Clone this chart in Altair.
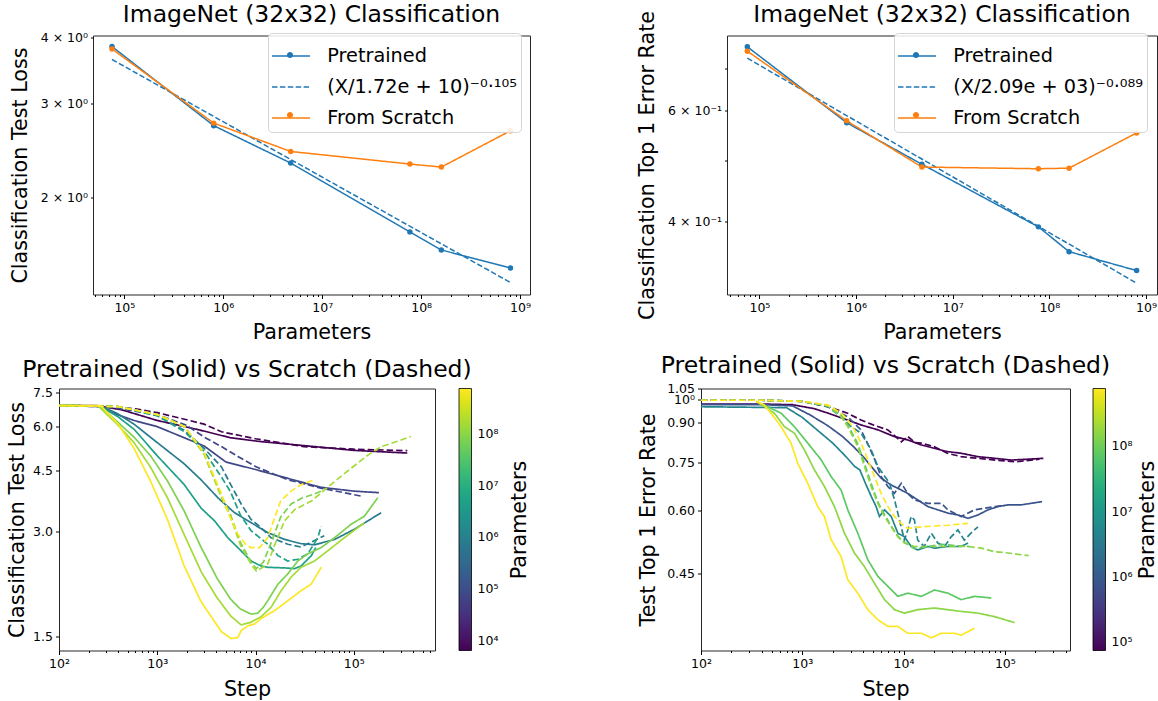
import altair as alt
import pandas as pd

FONT = "DejaVu Sans"
BLUE = "#1f77b4"
ORANGE = "#ff7f0e"
FRAME = "#262626"

TITLE_SIZE = 23.5
AXIS_TITLE_SIZE = 20.7
TICK_SIZE = 12.5
LEGEND_SIZE = 19.3

# ---------------- top row: final metric vs model size ----------------
PARAMS = [7.5e4, 8.0e5, 4.8e6, 7.7e7, 1.6e8, 8.0e8]
LOSS_PRETRAINED = [3.85, 2.73, 2.32, 1.72, 1.59, 1.47]
LOSS_SCRATCH = [3.81, 2.76, 2.44, 2.31, 2.28, 2.67]
LOSS_FIT_X = [7.5e4, 8.0e8]
LOSS_FIT_Y = [3.64, 1.38]
LOSS_FIT_LABEL = "(X/1.72e + 10)⁻⁰·¹⁰⁵"

ERR_PRETRAINED = [0.758, 0.574, 0.493, 0.392, 0.358, 0.334]
ERR_SCRATCH = [0.746, 0.578, 0.488, 0.485, 0.486, 0.553]
ERR_FIT_X = [7.5e4, 8.0e8]
ERR_FIT_Y = [0.727, 0.319]
ERR_FIT_LABEL = "(X/2.09e + 03)⁻⁰·⁰⁸⁹"

SERIES_PRE = "Pretrained"
SERIES_SCR = "From Scratch"

# ---------------- bottom-left: test loss curves ----------------
BL_PARAMS = [6.4e3, 7.5e4, 8.0e5, 4.8e6, 7.7e7, 1.6e8, 7.7e8]
BL_PRE_STEPS = [
    [100, 240, 440, 1000, 2700, 5500, 11000, 26000, 100000, 350000],
    [100, 260, 390, 580, 1000, 1870, 3000, 5000, 10000, 21000, 46000, 100000, 180000],
    [100, 265, 390, 580, 1000, 1870, 2800, 4140, 6100, 9030, 13300, 19700, 29100, 39800, 64000, 102000, 139000, 190000],
    [100, 260, 400, 580, 1000, 1870, 2800, 3830, 5230, 7140, 9030, 11400, 13300, 19700, 25000, 29000, 37000, 41000],
    [100, 260, 392, 580, 855, 1265, 1866, 2800, 4075, 5570, 7000, 9000, 10500, 12000, 13300, 16900, 21300, 26900, 34000, 46600, 63500, 94000, 128000, 175000],
    [100, 250, 390, 580, 850, 1270, 1870, 2800, 4000, 5570, 7140, 9030, 11400, 14400, 18200, 23000, 29000, 39800, 54000, 80000, 128000],
    [100, 265, 400, 580, 850, 1270, 1870, 2760, 3540, 4480, 5660, 6610, 7140, 8350, 9770, 11400, 15600, 21300, 29000, 36800, 46600],
]
BL_PRE_LOSS = [
    [6.9, 6.9, 6.7, 6.25, 5.87, 5.58, 5.44, 5.32, 5.13, 5.04],
    [6.9, 6.85, 6.5, 6.25, 6.0, 5.58, 5.28, 4.75, 4.52, 4.27, 4.02, 3.92, 3.88],
    [6.9, 6.88, 6.55, 6.1, 5.4, 4.7, 4.22, 3.75, 3.4, 3.18, 2.98, 2.85, 2.77, 2.75, 2.85, 3.05, 3.22, 3.4],
    [6.9, 6.88, 6.4, 5.9, 4.95, 4.1, 3.5, 3.22, 2.88, 2.64, 2.47, 2.39, 2.37, 2.36, 2.35, 2.39, 2.56, 2.7],
    [6.9, 6.88, 6.2, 5.6, 4.95, 4.2, 3.45, 2.7, 2.2, 1.92, 1.8, 1.74, 1.75, 1.82, 1.9, 2.12, 2.27, 2.47, 2.59, 2.7, 2.88, 3.15, 3.32, 3.75],
    [6.9, 6.88, 6.1, 5.4, 4.6, 3.75, 2.95, 2.3, 1.95, 1.72, 1.62, 1.65, 1.71, 1.82, 2.03, 2.22, 2.37, 2.47, 2.64, 2.88, 3.18],
    [6.9, 6.9, 6.1, 5.2, 4.2, 3.25, 2.4, 1.9, 1.71, 1.55, 1.48, 1.49, 1.56, 1.61, 1.63, 1.69, 1.78, 1.9, 2.03, 2.12, 2.37],
]
BL_SCR_STEPS = [
    [100, 300, 600, 1000, 1900, 3000, 4500, 10000, 31000, 100000, 350000],
    [100, 300, 1000, 2000, 3000, 4500, 6600, 10000, 21000, 46000, 100000, 120000],
    [100, 400, 1000, 1900, 3000, 4500, 5570, 7140, 9000, 11400, 14400, 21300, 29000, 40000, 50000],
    [100, 400, 1000, 1900, 3000, 4500, 5570, 7000, 9000, 13300, 16900, 21300, 27000, 34000, 43000, 46500],
    [100, 400, 1000, 1900, 3000, 4500, 5570, 7000, 9000, 10200, 12000, 14500, 18000, 23000, 30000, 40000, 50000],
    [100, 400, 1000, 1900, 3000, 4500, 5570, 7000, 9000, 10200, 13300, 15600, 19700, 25000, 37000, 64000, 94000, 140000, 190000, 280000, 380000],
    [100, 400, 1000, 1900, 3000, 4500, 5500, 6600, 8000, 9000, 11000, 13300, 15000, 18000, 23000, 29000, 40000],
]
BL_SCR_LOSS = [
    [6.9, 6.88, 6.75, 6.58, 6.3, 6.1, 5.8, 5.54, 5.26, 5.17, 5.12],
    [6.9, 6.85, 6.5, 6.05, 5.6, 5.26, 4.93, 4.61, 4.23, 4.0, 3.83, 3.79],
    [6.9, 6.85, 6.45, 5.85, 5.2, 4.6, 4.1, 3.6, 3.25, 3.08, 2.88, 2.76, 2.71, 2.83, 2.92],
    [6.9, 6.85, 6.45, 5.8, 5.1, 4.3, 3.9, 3.35, 3.02, 2.76, 2.56, 2.47, 2.5, 2.59, 2.88, 3.11],
    [6.9, 6.85, 6.5, 6.0, 5.0, 3.8, 3.35, 2.8, 2.45, 2.35, 2.45, 2.8, 3.3, 3.6, 3.75, 3.85, 3.95],
    [6.9, 6.85, 6.5, 6.0, 5.0, 3.75, 3.3, 2.75, 2.42, 2.31, 2.42, 2.74, 3.22, 3.47, 3.67, 4.18, 4.56, 4.98, 5.26, 5.45, 5.62],
    [6.9, 6.85, 6.5, 6.0, 5.05, 3.85, 3.3, 2.95, 2.75, 2.7, 2.7, 2.88, 3.18, 3.67, 3.92, 4.09, 4.23],
]

# ---------------- bottom-right: top-1 error curves ----------------
BR_PARAMS = [7.5e4, 8.0e5, 4.8e6, 7.7e7, 1.6e8, 7.7e8]
BR_PRE_STEPS = [
    [100, 400, 800, 1300, 1800, 2800, 3800, 5600, 8100, 11000, 15000, 20000, 27000, 37000, 54000, 80000, 116000, 240000],
    [100, 400, 800, 1200, 1800, 2500, 3200, 4000, 4800, 6000, 7500, 9500, 11000, 13800, 17400, 21800, 27400, 34400, 43300, 54300, 68200, 85700, 108000, 146000, 233000],
    [100, 700, 1000, 1400, 2000, 2700, 3300, 3700, 4200, 4800, 5360, 5780, 6490, 7550, 8790, 10200, 11900, 13800, 17400, 20200, 27400, 37000, 43300],
    [350, 617, 836, 1132, 1535, 1927, 2417, 2814, 3534, 4436, 5570, 7000, 8790, 11000, 15000, 20200, 27400, 37000, 50300, 73600],
    [350, 530, 666, 836, 1050, 1318, 1655, 2079, 2608, 3275, 4113, 5165, 6486, 8147, 10200, 13800, 20200, 27400, 37000, 54300, 79500, 125000],
    [350, 420, 492, 617, 774, 902, 1132, 1421, 1655, 1927, 2417, 2814, 3534, 4436, 5570, 7000, 8790, 11000, 15000, 18800, 23600, 31900, 37000, 50300],
]
BR_PRE_ERR = [
    [0.978, 0.978, 0.975, 0.958, 0.938, 0.909, 0.889, 0.869, 0.843, 0.83, 0.811, 0.799, 0.787, 0.781, 0.769, 0.763, 0.757, 0.763],
    [0.975, 0.975, 0.97, 0.93, 0.885, 0.843, 0.805, 0.769, 0.735, 0.697, 0.676, 0.66, 0.65, 0.631, 0.612, 0.603, 0.594, 0.589, 0.58, 0.589, 0.603, 0.612, 0.617, 0.617, 0.626],
    [0.966, 0.962, 0.92, 0.869, 0.818, 0.769, 0.735, 0.724, 0.681, 0.641, 0.612, 0.585, 0.603, 0.585, 0.542, 0.533, 0.51, 0.502, 0.51, 0.506, 0.51, 0.51, 0.518],
    [0.99, 0.938, 0.882, 0.818, 0.758, 0.702, 0.66, 0.603, 0.542, 0.48, 0.445, 0.425, 0.406, 0.412, 0.406, 0.418, 0.412, 0.4, 0.406, 0.403],
    [0.99, 0.938, 0.882, 0.856, 0.793, 0.724, 0.671, 0.612, 0.542, 0.495, 0.465, 0.431, 0.4, 0.382, 0.376, 0.382, 0.385, 0.382, 0.379, 0.376, 0.37, 0.36],
    [0.99, 0.975, 0.938, 0.882, 0.818, 0.746, 0.681, 0.612, 0.585, 0.526, 0.487, 0.438, 0.412, 0.382, 0.365, 0.354, 0.354, 0.343, 0.343, 0.336, 0.343, 0.343, 0.34, 0.351],
]
BR_SCR_STEPS = [
    [100, 400, 1000, 1800, 2800, 3800, 5000, 7000, 8500, 9500, 11000, 13000, 15000, 20000, 27000, 37000, 54000, 80000, 125000, 220000],
    [100, 400, 1000, 1800, 2800, 3800, 4400, 5200, 6000, 7000, 8100, 9500, 11000, 12800, 17400, 23600, 27400, 37000, 50300, 79500, 100000],
    [100, 400, 1000, 1800, 2400, 3040, 3810, 4790, 5570, 7270, 8150, 9470, 10200, 11000, 11900, 12800, 13800, 16000, 18800, 21800, 25400, 29500, 34400, 39800, 46300, 54300],
    [100, 400, 1000, 1800, 2417, 2814, 3534, 4113, 4786, 5570, 6486, 7550, 8790, 10200, 12800, 17400, 23600, 31900, 45000],
    [100, 400, 1000, 1800, 2417, 2814, 3534, 4113, 4786, 5570, 6486, 7550, 8790, 10200, 12800, 17400, 23600, 31900, 43300, 58600, 79500, 108000, 146000, 172000],
    [100, 400, 1000, 1786, 2417, 2814, 3275, 3811, 4436, 5165, 6010, 7000, 8147, 9470, 11000, 15000, 20200, 27400, 43300],
]
BR_SCR_ERR = [
    [0.995, 0.995, 0.99, 0.966, 0.938, 0.909, 0.889, 0.869, 0.84, 0.823, 0.843, 0.82, 0.818, 0.805, 0.781, 0.769, 0.763, 0.757, 0.751, 0.76],
    [0.995, 0.995, 0.99, 0.966, 0.923, 0.869, 0.818, 0.758, 0.702, 0.671, 0.65, 0.681, 0.65, 0.631, 0.621, 0.621, 0.603, 0.585, 0.603, 0.612, 0.615],
    [0.995, 0.995, 0.99, 0.966, 0.923, 0.882, 0.856, 0.793, 0.735, 0.681, 0.631, 0.558, 0.525, 0.55, 0.585, 0.576, 0.525, 0.51, 0.542, 0.518, 0.51, 0.533, 0.55, 0.525, 0.542, 0.558],
    [0.995, 0.995, 0.99, 0.97, 0.93, 0.89, 0.815, 0.745, 0.68, 0.625, 0.59, 0.56, 0.535, 0.52, 0.505, 0.51, 0.515, 0.512, 0.51],
    [0.995, 0.995, 0.99, 0.97, 0.923, 0.882, 0.805, 0.735, 0.671, 0.621, 0.585, 0.558, 0.533, 0.518, 0.51, 0.51, 0.51, 0.51, 0.51, 0.506, 0.498, 0.495, 0.491, 0.489],
    [0.995, 0.995, 0.99, 0.974, 0.938, 0.909, 0.869, 0.818, 0.758, 0.702, 0.65, 0.612, 0.585, 0.567, 0.554, 0.558, 0.56, 0.562, 0.567],
]

# ---------------- axes / ticks ----------------
DECADES = [1e2, 1e3, 1e4, 1e5, 1e6, 1e7, 1e8, 1e9]
MINOR_MULT = [1, 2, 3, 4, 5, 6, 7, 8, 9]
TL_X_DOMAIN = [4.82e4, 1.26e9]
TL_Y_DOMAIN = [1.31, 4.04]
TR_X_DOMAIN = [4.62e4, 1.30e9]
TR_Y_DOMAIN = [0.306, 0.79]
BL_X_DOMAIN = [100, 6.7e5]
BL_Y_DOMAIN = [1.368, 7.72]
BR_X_DOMAIN = [100, 4.4e5]
BR_Y_DOMAIN = [0.317, 1.05]
TL_Y_TICKS = [2, 3, 4]
TR_Y_TICKS = [0.4, 0.5, 0.6, 0.7]
BL_Y_TICKS = [1.5, 3.0, 4.5, 6.0, 7.5]
BR_Y_TICKS = [0.45, 0.60, 0.75, 0.90, 1.0, 1.05]
BL_CBAR_TICKS = [1e4, 1e5, 1e6, 1e7, 1e8]
BR_CBAR_TICKS = [1e5, 1e6, 1e7, 1e8]
BL_CBAR_DOMAIN = [6.4e3, 7.7e8]
BR_CBAR_DOMAIN = [7.5e4, 7.7e8]

LOG10 = "(log(datum.value)/LN10)"
IS_DEC = f"abs({LOG10} - round({LOG10})) < 1e-6"
SUPS = "['⁰','¹','²','³','⁴','⁵','⁶','⁷','⁸','⁹']"
POW_LABEL = f"'10' + {SUPS}[round({LOG10})]"
DEC_LABEL = f"({IS_DEC}) ? {POW_LABEL} : ''"
DOT_PATH = "M-0.16,0A0.16,0.16,0,1,1,0.16,0A0.16,0.16,0,1,1,-0.16,0Z"

INDEP = dict(color="independent", fill="independent", strokeDash="independent")


def log_ticks(lo, hi):
    return [m * d for d in DECADES for m in MINOR_MULT if lo <= m * d <= hi]


def x_axis(domain, title, title_pad):
    return alt.Axis(
        values=log_ticks(*domain), labelExpr=DEC_LABEL, title=title,
        tickSize={"condition": {"test": IS_DEC, "value": 4}, "value": 2},
        labelFontSize=TICK_SIZE, labelPadding=3, labelFlush=False, labelOverlap=False,
        titleFontSize=AXIS_TITLE_SIZE, titlePadding=title_pad,
        domain=False, grid=False, tickColor="black", tickWidth=1,
    )


def y_axis(values, label_expr, title, tick, title_pad):
    return alt.Axis(
        values=values, labelExpr=label_expr, title=title, tickSize=tick,
        labelFontSize=TICK_SIZE, labelPadding=3, labelFlush=False, labelOverlap=False,
        titleFontSize=AXIS_TITLE_SIZE, titlePadding=title_pad,
        domain=False, grid=False, tickColor="black", tickWidth=1,
    )


def log_scale(domain):
    return alt.Scale(type="log", domain=domain, nice=False, zero=False)


def top_panel(pre, scr, fit_x, fit_y, fit_label, xdom, ydom, yaxis, width, leg_x, title_offset):
    lines = pd.DataFrame({
        "params": PARAMS + fit_x + PARAMS,
        "value": pre + fit_y + scr,
        "series": [SERIES_PRE] * len(PARAMS) + [fit_label] * len(fit_x) + [SERIES_SCR] * len(PARAMS),
    })
    dots = pd.DataFrame({
        "params": PARAMS + PARAMS,
        "value": pre + scr,
        "dot": [SERIES_PRE] * len(PARAMS) + [SERIES_SCR] * len(PARAMS),
    })
    x = alt.X("params:Q", scale=log_scale(xdom), axis=x_axis(xdom, "Parameters", 8))
    y = alt.Y("value:Q", scale=log_scale(ydom), axis=yaxis)
    dom = [SERIES_PRE, fit_label, SERIES_SCR]
    common = dict(orient="none", legendX=leg_x, legendY=-2.5, title=None, padding=3,
                  symbolSize=1444, labelFontSize=LEGEND_SIZE, labelOffset=16.3,
                  labelLimit=400, rowPadding=-4.5)
    leg = alt.Legend(
        fillColor="rgba(255,255,255,0.85)", strokeColor="#d5d5d5", cornerRadius=4,
        symbolType="stroke", symbolStrokeWidth=1.5, zindex=1, **common,
    )
    line_layer = alt.Chart(lines).mark_line(strokeWidth=1.5, clip=True).encode(
        x=x, y=y,
        color=alt.Color("series:N", scale=alt.Scale(domain=dom, range=[BLUE, BLUE, ORANGE]), legend=leg),
        strokeDash=alt.StrokeDash("series:N", scale=alt.Scale(domain=dom, range=[[1, 0], [5.5, 2.4], [1, 0]]),
                                  legend=leg),
    )
    dot_leg = alt.Legend(
        symbolType=DOT_PATH, symbolStrokeWidth=0, symbolOpacity=1, labelExpr="' '", zindex=2, **common,
    )
    dot_layer = alt.Chart(dots).mark_circle(size=30, opacity=1, clip=True).encode(
        x=x, y=y,
        fill=alt.Fill("dot:N", scale=alt.Scale(domain=[SERIES_PRE, " ", SERIES_SCR],
                                                range=[BLUE, "rgba(0,0,0,0)", ORANGE]), legend=dot_leg),
    )
    return alt.layer(line_layer, dot_layer).properties(
        width=width, height=259,
        title=alt.TitleParams("ImageNet (32x32) Classification", fontSize=TITLE_SIZE,
                              offset=title_offset, frame="group"),
    )


def curves_frame(params, pre_steps, pre_vals, scr_steps, scr_vals):
    rows = []
    for i, p in enumerate(params):
        for kind, steps, vals in (("Pretrained", pre_steps[i], pre_vals[i]), ("Scratch", scr_steps[i], scr_vals[i])):
            for s, v in zip(steps, vals):
                rows.append({"step": s, "value": v, "params": p, "kind": kind, "curve": f"{kind}-{i}"})
    return pd.DataFrame(rows)


def cbar_legend(values, leg_x):
    return alt.Legend(
        title=None, type="gradient", direction="vertical", orient="none", legendX=leg_x, legendY=0,
        padding=0, gradientLength=262, gradientThickness=12.5,
        gradientStrokeColor="black", gradientStrokeWidth=0.8,
        values=values, labelExpr=POW_LABEL, labelFontSize=TICK_SIZE, labelOffset=6, labelOverlap=False,
    )


def bottom_panel(df, xdom, ydom, yaxis, cdom, cvals, width, cb_x, cb_title_pad):
    x = alt.X("step:Q", scale=log_scale(xdom), axis=x_axis(xdom, "Step", 9))
    lines = alt.Chart(df).mark_line(strokeWidth=1.7, clip=True).encode(
        x=x,
        y=alt.Y("value:Q", scale=log_scale(ydom), axis=yaxis),
        color=alt.Color("params:Q", scale=alt.Scale(type="log", domain=cdom, scheme="viridis", zero=False),
                        legend=cbar_legend(cvals, cb_x)),
        strokeDash=alt.StrokeDash("kind:N", scale=alt.Scale(domain=["Pretrained", "Scratch"],
                                                            range=[[1, 0], [6.5, 3]]), legend=None),
        detail="curve:N",
    )
    cbar_title = alt.Chart(df).mark_point(opacity=0).encode(
        x=x,
        y=alt.Y("value:Q", scale=log_scale(ydom), axis=alt.Axis(
            orient="right", title="Parameters", ticks=False, labels=False, domain=False, grid=False,
            titleAngle=270, titleBaseline="top", titlePadding=cb_title_pad, titleFontSize=AXIS_TITLE_SIZE)),
    )
    return alt.layer(lines, cbar_title).resolve_scale(y="independent").resolve_axis(y="independent").properties(
        width=width, height=262,
        title=alt.TitleParams("Pretrained (Solid) vs Scratch (Dashed)", fontSize=TITLE_SIZE, offset=5, frame="group"),
    )


tl = top_panel(
    LOSS_PRETRAINED, LOSS_SCRATCH, LOSS_FIT_X, LOSS_FIT_Y, LOSS_FIT_LABEL, TL_X_DOMAIN, TL_Y_DOMAIN,
    y_axis(TL_Y_TICKS, "datum.value + ' × 10⁰'", "Classification Test Loss", 2.5, 10), 437, 175, 5,
)
tr = top_panel(
    ERR_PRETRAINED, ERR_SCRATCH, ERR_FIT_X, ERR_FIT_Y, ERR_FIT_LABEL, TR_X_DOMAIN, TR_Y_DOMAIN,
    y_axis(TR_Y_TICKS,
           "abs(datum.value-0.4)<1e-9 ? '4 × 10⁻¹' : abs(datum.value-0.6)<1e-9 ? '6 × 10⁻¹' : ''",
           "Classification Top 1 Error Rate", 2.5, 10), 430, 167, -16,
)
bl = bottom_panel(
    curves_frame(BL_PARAMS, BL_PRE_STEPS, BL_PRE_LOSS, BL_SCR_STEPS, BL_SCR_LOSS),
    BL_X_DOMAIN, BL_Y_DOMAIN,
    y_axis(BL_Y_TICKS, "format(datum.value, '.1f')", "Classification Test Loss", 3.5, 5),
    BL_CBAR_DOMAIN, BL_CBAR_TICKS, 376, 400, 74,
)
br = bottom_panel(
    curves_frame(BR_PARAMS, BR_PRE_STEPS, BR_PRE_ERR, BR_SCR_STEPS, BR_SCR_ERR),
    BR_X_DOMAIN, BR_Y_DOMAIN,
    y_axis(BR_Y_TICKS, "abs(datum.value-1)<1e-9 ? '10⁰' : format(datum.value, '.2f')",
           "Test Top 1 Error Rate", 3.5, 8),
    BR_CBAR_DOMAIN, BR_CBAR_TICKS, 369, 392, 67,
)

# an empty, frameless spacer that shifts the top row right of the bottom row
spacer = alt.Chart(pd.DataFrame({"v": [0]})).mark_point(opacity=0).encode(
    x=alt.value(0), y=alt.value(0)
).properties(width=33.4, height=10, view=alt.ViewBackground(strokeOpacity=0))

top_pair = alt.hconcat(tl, tr, spacing=197, bounds="flush").resolve_scale(**INDEP).resolve_legend(**INDEP)
top_row = alt.hconcat(spacer, top_pair, spacing=0, bounds="flush").resolve_scale(**INDEP).resolve_legend(**INDEP)
bottom_row = alt.hconcat(bl, br, spacing=266, bounds="flush").resolve_scale(**INDEP).resolve_legend(**INDEP)

chart = alt.concat(top_row, bottom_row, columns=1, spacing=11, align="none").resolve_scale(
    **INDEP).resolve_legend(**INDEP).properties(
    padding={"left": 6, "top": 1.5, "right": 0, "bottom": 0},
    background="white",
).configure_view(
    stroke=FRAME, strokeWidth=1,
).configure_axis(
    labelFont=FONT, titleFont=FONT, labelColor="black", titleColor="black", titleFontWeight="normal",
).configure_legend(
    labelFont=FONT, titleFont=FONT, labelColor="black", titleColor="black", titleFontWeight="normal",
).configure_title(
    font=FONT, fontWeight="normal", color="black", anchor="middle",
)

chart.save("out.html", embed_options={"renderer": "svg", "actions": False})
